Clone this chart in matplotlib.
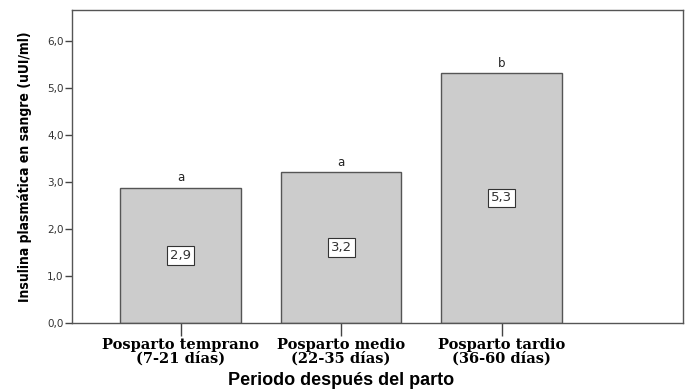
import matplotlib
matplotlib.use('Agg')
import matplotlib.pyplot as plt
from matplotlib import font_manager

# --- data ---
periods = ['Posparto temprano\n(7-21 días)', 'Posparto medio\n(22-35 días)', 'Posparto tardio\n(36-60 días)']
insulin = [2.88, 3.21, 5.32]
value_labels = ['2,9', '3,2', '5,3']
group_letters = ['a', 'a', 'b']
yticks = [0, 1, 2, 3, 4, 5, 6]
ytick_labels = ['0,0', '1,0', '2,0', '3,0', '4,0', '5,0', '6,0']

names = {f.name for f in font_manager.fontManager.ttflist}
if 'Liberation Sans Narrow' in names:
    ylab_font = dict(family='Liberation Sans Narrow', fontsize=11.5)
else:
    ylab_font = dict(family='DejaVu Sans', fontstretch='condensed', fontsize=10)

fig = plt.figure(figsize=(6.91, 3.89), dpi=100)
ax = fig.add_axes([72 / 691, 1 - 323 / 389, (683 - 72) / 691, (323 - 9.5) / 389])

x = list(range(len(periods)))
ax.bar(x, insulin, width=0.75, color='#cccccc', edgecolor='#555555', linewidth=1.0)

for xi, v, lab, let in zip(x, insulin, value_labels, group_letters):
    ax.text(xi, v / 2, lab, ha='center', va='center', fontsize=9.5, family='DejaVu Sans',
            color='#333333',
            bbox=dict(boxstyle='square,pad=0.22', facecolor='white', edgecolor='#333333', linewidth=0.8))
    ax.text(xi, v + 0.07, let, ha='center', va='bottom', fontsize=8.5, family='DejaVu Sans', color='#222222')

ax.set_xlim(-0.677, 3.13)
ax.set_ylim(0, 6.67)
ax.set_yticks(yticks)
ax.set_yticklabels(ytick_labels, fontsize=7.5, family='DejaVu Sans', color='#333333')
ax.set_xticks(x)
ax.set_xticklabels(periods, fontsize=10.5, family='DejaVu Serif', fontweight='bold',
                   linespacing=0.9)
ax.tick_params(axis='y', length=5, width=1, color='#444444', pad=1)
ax.tick_params(axis='x', length=9, width=1, color='#444444', pad=2)
for s in ax.spines.values():
    s.set_color('#555555')
    s.set_linewidth(1.0)

ax.set_xlabel('Periodo después del parto', fontsize=13, family='Liberation Sans',
              fontweight='bold')
ax.xaxis.set_label_coords((341 - 72) / 611, -49 / 313.5)
ax.set_ylabel('Insulina plasmática en sangre (uUI/ml)', fontweight='bold', **ylab_font)
ax.yaxis.set_label_coords(-40 / 611, 0.5)

fig.savefig('out.png', dpi=100)
